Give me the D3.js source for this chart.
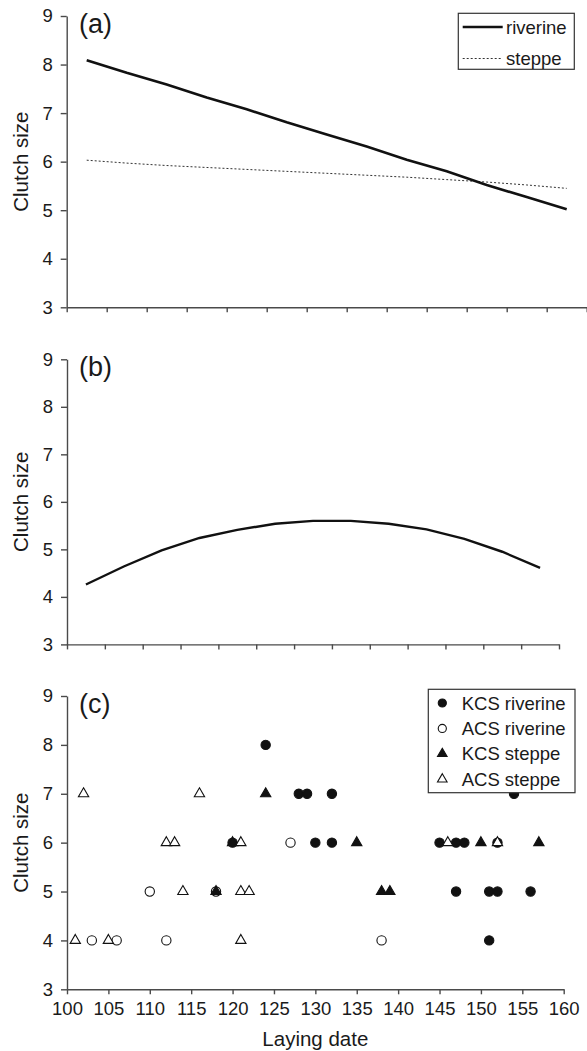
<!DOCTYPE html>
<html>
<head>
<meta charset="utf-8">
<script src="https://cdn.jsdelivr.net/npm/d3@7"></script>
<style>
  body { margin: 0; background: #fff; }
  svg text { font-family: "Liberation Sans", Arial, Helvetica, sans-serif; fill: #1a1a1a; }
  .axis path, .axis line { stroke: #4a4a4a; stroke-width: 1.4; }
  .axis text { font-size: 18.5px; }
</style>
</head>
<body>
<svg id="chart"></svg>
<script>
// categories used by the line panels (a) and (b)
const dateCats = [100, 105, 110, 115, 120, 125, 130, 135, 140, 145, 150, 155, 160];
// fitted clutch size, panel (a)
const riverineFit = [8.09, 7.83, 7.59, 7.32, 7.08, 6.81, 6.56, 6.31, 6.04, 5.80, 5.52, 5.27, 5.02];
const steppeFit = [6.03, 5.97, 5.92, 5.88, 5.84, 5.80, 5.76, 5.72, 5.68, 5.63, 5.58, 5.52, 5.45];
// fitted clutch size, panel (b)
const pooledFit = [4.26, 4.64, 4.98, 5.24, 5.41, 5.54, 5.60, 5.60, 5.54, 5.42, 5.22, 4.95, 4.61];

// panel (c) observations: [laying date, clutch size]
const kcsRiverine = [[120,6],[124,8],[128,7],[129,7],[132,7],[130,6],[132,6],[145,6],[147,6],[148,6],
                     [152,6],[154,7],[147,5],[151,5],[152,5],[156,5],[151,4]];
const acsRiverine = [[103,4],[106,4],[112,4],[110,5],[118,5],[127,6],[138,4]];
const kcsSteppe = [[118,5],[120,6],[124,7],[135,6],[138,5],[139,5],[150,6],[157,6]];
const acsSteppe = [[101,4],[105,4],[121,4],[102,7],[114,5],[121,5],[122,5],[112,6],[113,6],[121,6],
                   [116,7],[146,6],[152,6]];

const yTicks = [3, 4, 5, 6, 7, 8, 9];
const xTicks = [100, 105, 110, 115, 120, 125, 130, 135, 140, 145, 150, 155, 160];
const lineLegend = ["riverine", "steppe"];
const pointLegend = ["KCS riverine", "ACS riverine", "KCS steppe", "ACS steppe"];

const W = 587, H = 1051;
const svg = d3.select("#chart").attr("width", W).attr("height", H);

const panels = {
  a: {left: 66.7, right: 586.7, top: 16, bottom: 307.3},
  b: {left: 67, right: 559, top: 359.3, bottom: 644.4},
  c: {left: 67, right: 563.7, top: 696, bottom: 989.3}
};

function yScaleFor(p) {
  return d3.scaleLinear().domain([3, 9]).range([p.bottom, p.top]);
}

function drawYAxis(p, y, label) {
  svg.append("g")
    .attr("class", "axis")
    .attr("transform", `translate(${p.left},0)`)
    .call(d3.axisLeft(y).tickValues(yTicks).tickFormat(d3.format("d"))
      .tickSize(6).tickPadding(8).tickSizeOuter(0));
  svg.append("text")
    .attr("transform", `translate(28,${(p.top + p.bottom) / 2}) rotate(-90)`)
    .attr("text-anchor", "middle")
    .style("font-size", "20.5px")
    .text("Clutch size");
  svg.append("text")
    .attr("x", 79)
    .attr("y", p.top + 17)
    .style("font-size", "27px")
    .text(label);
}

// category axis for the line panels: ticks on category boundaries
function catScaleFor(p) {
  return d3.scaleLinear().domain([0, dateCats.length]).range([p.left, p.right]);
}

function drawCatAxis(p, xi) {
  svg.append("g")
    .attr("class", "axis")
    .attr("transform", `translate(0,${p.bottom})`)
    .call(d3.axisBottom(xi).tickValues(d3.range(dateCats.length + 1)).tickFormat(() => "")
      .tickSize(5).tickSizeOuter(0));
}

// ---------- panel (a)
const pa = panels.a;
const ya = yScaleFor(pa), xa = catScaleFor(pa);
drawCatAxis(pa, xa);
drawYAxis(pa, ya, "(a)");

const lineA = d3.line().x((d, i) => xa(i + 0.5)).y(d => ya(d));
svg.append("path").datum(steppeFit)
  .attr("d", lineA).attr("fill", "none")
  .attr("stroke", "#333").attr("stroke-width", 1).attr("stroke-dasharray", "2,2");
svg.append("path").datum(riverineFit)
  .attr("d", lineA).attr("fill", "none")
  .attr("stroke", "#111").attr("stroke-width", 2.6);

const legA = svg.append("g");
legA.append("rect").attr("x", 458.3).attr("y", 13.3).attr("width", 116).attr("height", 56)
  .attr("fill", "#fff").attr("stroke", "#333").attr("stroke-width", 1.2);
lineLegend.forEach((name, i) => {
  const cy = 27 + i * 31.5;
  legA.append("line").attr("x1", 462.7).attr("x2", 502.7).attr("y1", cy).attr("y2", cy)
    .attr("stroke", i === 0 ? "#111" : "#333")
    .attr("stroke-width", i === 0 ? 2.6 : 1)
    .attr("stroke-dasharray", i === 0 ? null : "2,2");
  legA.append("text").attr("x", 506).attr("y", cy + 6.5)
    .style("font-size", "18.5px").text(name);
});

// ---------- panel (b)
const pb = panels.b;
const yb = yScaleFor(pb), xb = catScaleFor(pb);
drawCatAxis(pb, xb);
drawYAxis(pb, yb, "(b)");

svg.append("path").datum(pooledFit)
  .attr("d", d3.line().x((d, i) => xb(i + 0.5)).y(d => yb(d)))
  .attr("fill", "none").attr("stroke", "#111").attr("stroke-width", 2.4);

// ---------- panel (c)
const pc = panels.c;
const yc = yScaleFor(pc);
const xc = d3.scaleLinear().domain([100, 160]).range([pc.left, pc.right]);

svg.append("g")
  .attr("class", "axis")
  .attr("transform", `translate(0,${pc.bottom})`)
  .call(d3.axisBottom(xc).tickValues(xTicks).tickFormat(d3.format("d"))
    .tickSize(5).tickPadding(8).tickSizeOuter(0));
drawYAxis(pc, yc, "(c)");

svg.append("text")
  .attr("x", (pc.left + pc.right) / 2).attr("y", 1046)
  .attr("text-anchor", "middle")
  .style("font-size", "20.5px")
  .text("Laying date");

const circleSym = d3.symbol().type(d3.symbolCircle).size(68);
const triSym = d3.symbol().type(d3.symbolTriangle).size(46);

const series = [
  {data: kcsRiverine, sym: circleSym, fill: "#111"},
  {data: acsRiverine, sym: circleSym, fill: "#fff"},
  {data: kcsSteppe, sym: triSym, fill: "#111"},
  {data: acsSteppe, sym: triSym, fill: "#fff"}
];

series.forEach(s => {
  svg.append("g").selectAll("path")
    .data(s.data)
    .enter()
    .append("path")
    .attr("d", s.sym())
    .attr("transform", d => `translate(${xc(d[0])},${yc(d[1])})`)
    .attr("fill", s.fill)
    .attr("stroke", "#111")
    .attr("stroke-width", 1.1);
});

const legC = svg.append("g");
legC.append("rect").attr("x", 428.3).attr("y", 689.3).attr("width", 146.7).attr("height", 103.4)
  .attr("fill", "#fff").attr("stroke", "#333").attr("stroke-width", 1.2);
pointLegend.forEach((name, i) => {
  const cy = 703 + i * 25.4;
  const s = series[i];
  legC.append("path")
    .attr("d", (i < 2 ? d3.symbol().type(d3.symbolCircle).size(52)
                      : d3.symbol().type(d3.symbolTriangle).size(40))())
    .attr("transform", `translate(442.3,${cy})`)
    .attr("fill", s.fill).attr("stroke", "#111").attr("stroke-width", 1.1);
  legC.append("text").attr("x", 461.7).attr("y", cy + 6.5)
    .style("font-size", "18.5px").text(name);
});
</script>
</body>
</html>
